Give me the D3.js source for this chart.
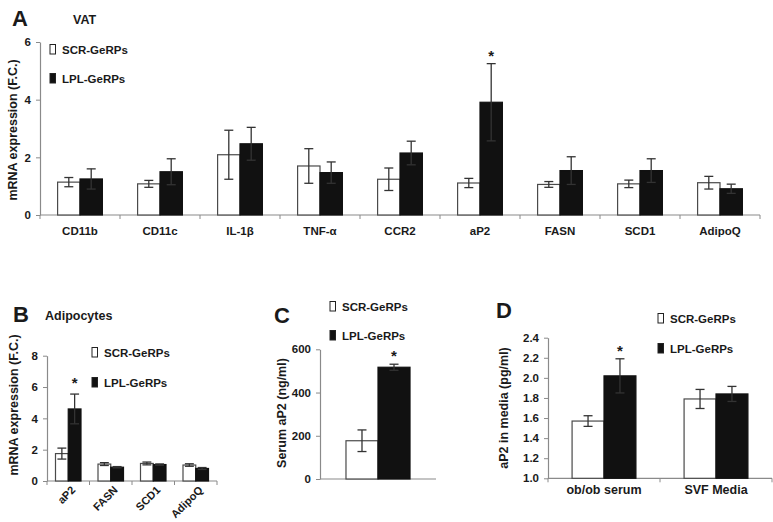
<!DOCTYPE html>
<html><head><meta charset="utf-8">
<script src="https://cdn.jsdelivr.net/npm/d3@7/dist/d3.min.js"></script>
<style>
body{margin:0;background:#fff;}
text{font-family:"Liberation Sans",Arial,Helvetica,sans-serif;font-weight:bold;fill:#1a1a1a;}
</style></head><body>
<svg id="c" width="773" height="522"></svg>
<script>
// ---------- DATA ----------
const seriesNames = ["SCR-GeRPs", "LPL-GeRPs"];

const catsA = ["CD11b","CD11c","IL-1β","TNF-α","CCR2","aP2","FASN","SCD1","AdipoQ"];
const scrA = [1.14,1.08,2.09,1.70,1.24,1.11,1.06,1.08,1.12];
const scrAErr = [0.16,0.12,0.85,0.60,0.39,0.16,0.10,0.13,0.22];
const lplA = [1.25,1.50,2.47,1.47,2.15,3.91,1.54,1.54,0.91];
const lplAErr = [0.35,0.45,0.57,0.37,0.41,1.34,0.48,0.41,0.16];
const sigA = ["aP2"];
const ticksA = [0,2,4,6];

const catsB = ["aP2","FASN","SCD1","AdipoQ"];
const scrB = [1.75,1.08,1.12,1.02];
const scrBErr = [0.35,0.09,0.09,0.08];
const lplB = [4.60,0.88,1.05,0.80];
const lplBErr = [0.95,0.04,0.04,0.06];
const sigB = ["aP2"];
const ticksB = [0,2,4,6,8];

const catsC = ["Serum"];
const scrC = [177];
const scrCErr = [50];
const lplC = [517];
const lplCErr = [14];
const sigC = ["Serum"];
const ticksC = [0,200,400,600];

const catsD = ["ob/ob serum","SVF Media"];
const scrD = [1.57,1.79];
const scrDErr = [0.053,0.095];
const lplD = [2.02,1.84];
const lplDErr = [0.17,0.075];
const sigD = ["ob/ob serum"];
const ticksD = [1.0,1.2,1.4,1.6,1.8,2.0,2.2,2.4];

// ---------- DRAW ----------
const svg = d3.select("#c");

function panel(o){
  const g = svg.append("g");
  const x = d3.scaleBand().domain(o.cats).range([o.x0, o.x1]).padding(0);
  const y = d3.scaleLinear().domain(o.domain).range([o.y0, o.y1]);
  const bw = x.bandwidth()*o.barFrac;
  // y axis
  const ya = d3.axisLeft(y).tickValues(o.ticks).tickSize(4).tickSizeOuter(0).tickPadding(5).tickFormat(o.fmt || d3.format("d"));
  const yg = g.append("g").attr("transform",`translate(${o.x0},0)`).call(ya);
  yg.select(".domain").attr("stroke","#8a8a8a").attr("stroke-width",1.2);
  yg.selectAll(".tick line").attr("stroke","#8a8a8a");
  yg.selectAll("text").style("font-size","11.5px").attr("fill","#1a1a1a");
  // x axis line and ticks
  g.append("line").attr("x1",o.x0).attr("x2",o.x1).attr("y1",o.y0).attr("y2",o.y0).attr("stroke","#8a8a8a").attr("stroke-width",1.2);
  const bounds = o.cats.map(c=>x(c)).concat([o.x1]);
  if(o.xTicks){
    g.selectAll(".xt").data(bounds).join("line").attr("x1",d=>d).attr("x2",d=>d)
      .attr("y1",o.y0).attr("y2",o.y0+4).attr("stroke","#8a8a8a");
  }
  // bars
  const series = [
    {vals:o.scr, errs:o.scrErr, fill:"#ffffff", off:-1},
    {vals:o.lpl, errs:o.lplErr, fill:"#111111", off:0}
  ];
  series.forEach(s=>{
    o.cats.forEach((c,i)=>{
      const cx = x(c)+x.bandwidth()/2;
      const bx = cx + s.off*bw;
      const v = s.vals[i], e = s.errs[i];
      g.append("rect").attr("x",bx).attr("width",bw)
        .attr("y",y(v)).attr("height",o.y0-y(v))
        .attr("fill",s.fill).attr("stroke",s.fill==="#ffffff"?"#4a4a4a":"#111").attr("stroke-width",1.2);
      const mx = bx+bw/2;
      const cap = Math.min(4.5, bw*0.35);
      g.append("line").attr("x1",mx).attr("x2",mx).attr("y1",y(v+e)).attr("y2",y(v-e)).attr("stroke","#333").attr("stroke-width",1.3);
      g.append("line").attr("x1",mx-cap).attr("x2",mx+cap).attr("y1",y(v+e)).attr("y2",y(v+e)).attr("stroke","#333").attr("stroke-width",1.3);
      g.append("line").attr("x1",mx-cap).attr("x2",mx+cap).attr("y1",y(v-e)).attr("y2",y(v-e)).attr("stroke","#333").attr("stroke-width",1.3);
      if(s.off===0 && o.sig.includes(c)){
        g.append("text").attr("x",mx).attr("y",y(v+e)-o.starGap).attr("text-anchor","middle")
          .style("font-size","15px").text("*");
      }
    });
  });
  // x labels
  if(o.xLabels==="rot"){
    o.cats.forEach(c=>{
      const cx = x(c)+x.bandwidth()/2;
      g.append("text").attr("transform",`translate(${cx+5},${o.y0+7}) rotate(-45)`)
        .attr("text-anchor","end").attr("dy","0.35em").style("font-size","11px").text(c);
    });
  } else if(o.xLabels){
    o.cats.forEach(c=>{
      const cx = x(c)+x.bandwidth()/2;
      g.append("text").attr("x",cx).attr("y",o.y0+o.xLabOff).attr("text-anchor","middle").style("font-size",o.xFont).text(c);
    });
  }
  // y title
  g.append("text").attr("transform",`translate(${o.ytX},${o.ytY}) rotate(-90)`).attr("text-anchor","middle")
    .style("font-size","12.5px").text(o.ytitle);
  // panel letter
  g.append("text").attr("x",o.letter[1]).attr("y",o.letter[2]).style("font-size","22px").text(o.letter[0]);
  if(o.sub) g.append("text").attr("x",o.sub[1]).attr("y",o.sub[2]).style("font-size","12.5px").text(o.sub[0]);
  // legend
  seriesNames.forEach((n,i)=>{
    const ly = o.leg[1] + i*o.leg[2];
    g.append("rect").attr("x",o.leg[0]).attr("y",ly-9.5).attr("width",5.5).attr("height",9.5)
      .attr("fill",i===0?"#fff":"#111").attr("stroke","#222").attr("stroke-width",1);
    g.append("text").attr("x",o.leg[0]+12).attr("y",ly).style("font-size","11.5px").text(n);
  });
}

panel({cats:catsA, scr:scrA, scrErr:scrAErr, lpl:lplA, lplErr:lplAErr, sig:sigA, ticks:ticksA,
  domain:[0,6], x0:40, x1:760, y0:215, y1:42, barFrac:0.28, xTicks:true, xLabels:true, xLabOff:20, xFont:"11.5px",
  ytitle:"mRNA  expression (F.C.)", ytX:17, ytY:130, letter:["A",12,26], sub:["VAT",73,24],
  leg:[50,54,29], starGap:3});

panel({cats:catsB, scr:scrB, scrErr:scrBErr, lpl:lplB, lplErr:lplBErr, sig:sigB, ticks:ticksB,
  domain:[0,8], x0:47, x1:217, y0:481, y1:355.7, barFrac:0.3, xTicks:true, xLabels:"rot",
  ytitle:"mRNA  expression (F.C.)", ytX:18, ytY:405, letter:["B",13,322], sub:["Adipocytes",45,320],
  leg:[92,357,30], starGap:6});

panel({cats:catsC, scr:scrC, scrErr:scrCErr, lpl:lplC, lplErr:lplCErr, sig:sigC, ticks:ticksC,
  domain:[0,600], x0:320, x1:436, y0:479, y1:349.3, barFrac:0.276, xTicks:false, xLabels:false,
  ytitle:"Serum aP2 (ng/ml)", ytX:286, ytY:413, letter:["C",274,323],
  leg:[330,311,29], starGap:3});

panel({cats:catsD, scr:scrD, scrErr:scrDErr, lpl:lplD, lplErr:lplDErr, sig:sigD, ticks:ticksD,
  domain:[1.0,2.4], x0:548, x1:772, y0:478.3, y1:337.7, barFrac:0.285, xTicks:true, xLabels:true, xLabOff:16, xFont:"12.5px",
  fmt:d3.format(".1f"),
  ytitle:"aP2 in media (pg/ml)", ytX:508, ytY:408, letter:["D",496,318],
  leg:[658,323,30], starGap:3});
</script>
</body></html>
